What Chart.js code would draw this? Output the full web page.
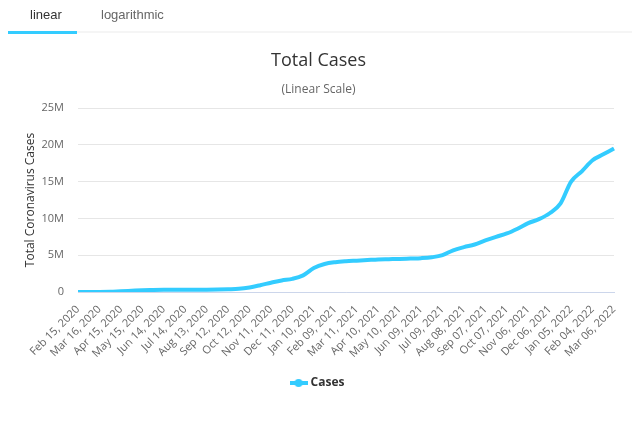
<!DOCTYPE html>
<html>
<head>
<meta charset="utf-8">
<script src="https://cdn.jsdelivr.net/npm/chart.js@4"></script>
<style>
  body { margin: 0; background: #fff; }
  #wrap { position: relative; width: 632px; height: 421px; }
  #tabs { position: absolute; left: 0; top: 0; width: 632px; height: 34px; font-family: "Liberation Sans", Arial, sans-serif; font-size: 13px; }
  .tab { position: absolute; top: 7px; }
  #t1 { left: 30px; color: #333; }
  #t2 { left: 101px; color: #666; }
  #bar1 { position: absolute; left: 8px; top: 31px; width: 69px; height: 3px; background: #33ccff; }
  #bar2 { position: absolute; left: 77px; top: 31px; width: 555px; height: 2px; background: #f5f5f5; }
  canvas { position: absolute; left: 0; top: 0; }
</style>
</head>
<body>
<div id="wrap">
  <canvas id="casesChart" width="632" height="421"></canvas>
  <div id="tabs">
    <span class="tab" id="t1">linear</span>
    <span class="tab" id="t2">logarithmic</span>
    <div id="bar1"></div>
    <div id="bar2"></div>
  </div>
</div>
<script>
// dates every 15 days, only every other one shows as a tick label
const dates = [
  'Feb 15, 2020', 'Mar 01, 2020', 'Mar 16, 2020', 'Mar 31, 2020', 'Apr 15, 2020', 'Apr 30, 2020',
  'May 15, 2020', 'May 30, 2020', 'Jun 14, 2020', 'Jun 29, 2020', 'Jul 14, 2020', 'Jul 29, 2020',
  'Aug 13, 2020', 'Aug 28, 2020', 'Sep 12, 2020', 'Sep 27, 2020', 'Oct 12, 2020', 'Oct 27, 2020',
  'Nov 11, 2020', 'Nov 26, 2020', 'Dec 11, 2020', 'Dec 26, 2020', 'Jan 10, 2021', 'Jan 25, 2021',
  'Feb 09, 2021', 'Feb 24, 2021', 'Mar 11, 2021', 'Mar 26, 2021', 'Apr 10, 2021', 'Apr 25, 2021',
  'May 10, 2021', 'May 25, 2021', 'Jun 09, 2021', 'Jun 24, 2021', 'Jul 09, 2021', 'Jul 24, 2021',
  'Aug 08, 2021', 'Aug 23, 2021', 'Sep 07, 2021', 'Sep 22, 2021', 'Oct 07, 2021', 'Oct 22, 2021',
  'Nov 06, 2021', 'Nov 21, 2021', 'Dec 06, 2021', 'Dec 21, 2021', 'Jan 05, 2022', 'Jan 20, 2022',
  'Feb 04, 2022', 'Feb 19, 2022', 'Mar 06, 2022'
];

// total cases, millions
const cases = [
  0.0, 0.0, 0.002, 0.025, 0.10, 0.17,
  0.24, 0.27, 0.295, 0.31, 0.29, 0.30,
  0.31, 0.33, 0.37, 0.43, 0.62, 0.92,
  1.26, 1.57, 1.79, 2.26, 3.25, 3.80,
  4.05, 4.18, 4.26, 4.34, 4.42, 4.46,
  4.50, 4.55, 4.60, 4.72, 5.00, 5.67,
  6.10, 6.45, 7.00, 7.50, 7.95, 8.60,
  9.35, 9.90, 10.70, 12.00, 15.00, 16.40,
  17.90, 18.70, 19.50
];

const yTicks = [0, 5, 10, 15, 20, 25];

// legend symbol: line with a dot in the middle
function legendSymbol() {
  const c = document.createElement('canvas');
  c.width = 18; c.height = 10;
  const g = c.getContext('2d');
  g.fillStyle = '#33ccff';
  g.fillRect(0, 3, 18, 4);
  g.beginPath();
  g.arc(9, 5, 4, 0, Math.PI * 2);
  g.fill();
  return c;
}

const ctx = document.getElementById('casesChart').getContext('2d');

new Chart(ctx, {
  type: 'line',
  data: {
    labels: dates,
    datasets: [{
      label: 'Cases',
      data: cases.map(v => v * 1e6),
      borderColor: '#33ccff',
      backgroundColor: '#33ccff',
      borderWidth: 4,
      pointRadius: 0,
      pointStyle: legendSymbol(),
      cubicInterpolationMode: 'monotone'
    }]
  },
  options: {
    responsive: false,
    animation: false,
    layout: {
      padding: { top: 50, left: 23, right: 18, bottom: 22 }
    },
    plugins: {
      title: {
        display: true,
        text: 'Total Cases',
        color: '#333',
        font: { family: 'Open Sans', size: 18, weight: 'normal' },
        padding: { top: 0, bottom: 11 }
      },
      subtitle: {
        display: true,
        text: '(Linear Scale)',
        color: '#666',
        font: { family: 'Open Sans', size: 12 },
        padding: { top: 0, bottom: 11 }
      },
      legend: {
        position: 'bottom',
        labels: {
          usePointStyle: true,
          color: '#333',
          font: { family: 'Open Sans', size: 12, weight: 'bold' },
          padding: 10
        }
      },
      tooltip: { enabled: false }
    },
    scales: {
      x: {
        grid: { display: false },
        border: { color: '#ccd6eb' },
        ticks: {
          autoSkip: false,
          maxRotation: 45,
          minRotation: 45,
          color: '#666',
          font: { family: 'Open Sans', size: 11 },
          callback: function (val, index) {
            return index % 2 === 0 ? this.getLabelForValue(val) : '';
          }
        },
        afterFit: scale => { scale.height = 75; }
      },
      y: {
        min: 0,
        max: 25e6,
        afterBuildTicks: scale => { scale.ticks = yTicks.map(v => ({ value: v * 1e6 })); },
        grid: { color: '#e6e6e6', drawTicks: false },
        border: { display: false },
        ticks: {
          color: '#666',
          padding: 14,
          font: { family: 'Open Sans', size: 11 },
          callback: v => v === 0 ? '0' : (v / 1e6) + 'M'
        },
        title: {
          display: true,
          text: 'Total Coronavirus Cases',
          color: '#333',
          font: { family: 'Open Sans', size: 12 },
          padding: { top: 0, bottom: 6 }
        },
        afterFit: scale => { scale.width = 55; }
      }
    }
  }
});
</script>
</body>
</html>
